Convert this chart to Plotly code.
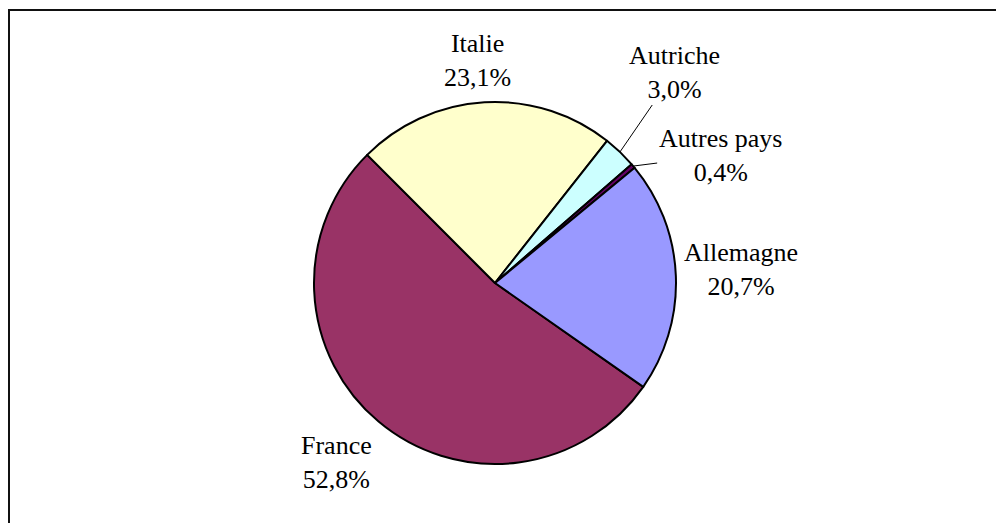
import numpy as np
import plotly.graph_objects as go

# données : répartition par pays
pays = ["France", "Italie", "Autriche", "Autres pays", "Allemagne"]
parts = [52.8, 23.1, 3.0, 0.4, 20.7]
couleurs = ["#993366", "#FFFFCC", "#CCFFFF", "#660066", "#9999FF"]

W, H = 1004, 523
# position du camembert (px, la page ajoute une marge de 8 px)
cx, cy, R = 487, 275, 181
depart = 125  # angle de départ de la première part (degrés, sens horaire depuis midi)

# décalage des étiquettes (px) par rapport au bord de la part, et trait de rappel
decal = [(-42, 41), (-7, -42), (55, -80), (87, -11), (65, -6)]
rappel = [False, False, True, True, False]

fig = go.Figure(go.Pie(
    labels=pays,
    values=parts,
    sort=False,
    direction="clockwise",
    rotation=depart,
    marker=dict(colors=couleurs, line=dict(color="black", width=2)),
    textinfo="none",
    hoverinfo="label+percent",
    showlegend=False,
    domain=dict(x=[(cx - R) / W, (cx + R) / W], y=[(H - cy - R) / H, (H - cy + R) / H]),
))

# étiquettes calculées à partir des angles des parts
cum = np.cumsum(parts)
total = cum[-1]
for i, p in enumerate(pays):
    mid = np.radians(depart + (cum[i] - parts[i] / 2) / total * 360)
    tx = (cx + R * np.sin(mid)) / W
    ty = (H - cy + R * np.cos(mid)) / H
    txt = p + "<br>" + f"{parts[i] / total * 100:.1f}%".replace(".", ",")
    dx, dy = decal[i]
    if rappel[i]:
        fig.add_annotation(x=tx, y=ty, xref="paper", yref="paper", text=txt,
                           showarrow=True, ax=dx, ay=dy, arrowhead=0, arrowwidth=1,
                           arrowcolor="black", standoff=0)
    else:
        fig.add_annotation(x=tx, y=ty, xref="paper", yref="paper", text=txt,
                           xanchor="center", yanchor="middle",
                           showarrow=False, xshift=dx, yshift=-dy)

# cadre
fig.add_shape(type="line", xref="paper", yref="paper", x0=0, x1=1.0, y0=1 - 2 / H, y1=1 - 2 / H,
              line=dict(color="#111111", width=2))
fig.add_shape(type="line", xref="paper", yref="paper", x0=1 / W, x1=1 / W, y0=0, y1=1 - 2 / H,
              line=dict(color="#111111", width=2))

fig.update_layout(
    width=W, height=H,
    margin=dict(l=0, r=0, t=0, b=0),
    paper_bgcolor="white",
    font=dict(family="Liberation Serif", size=26, color="black"),
)

fig.write_html("out.html")
